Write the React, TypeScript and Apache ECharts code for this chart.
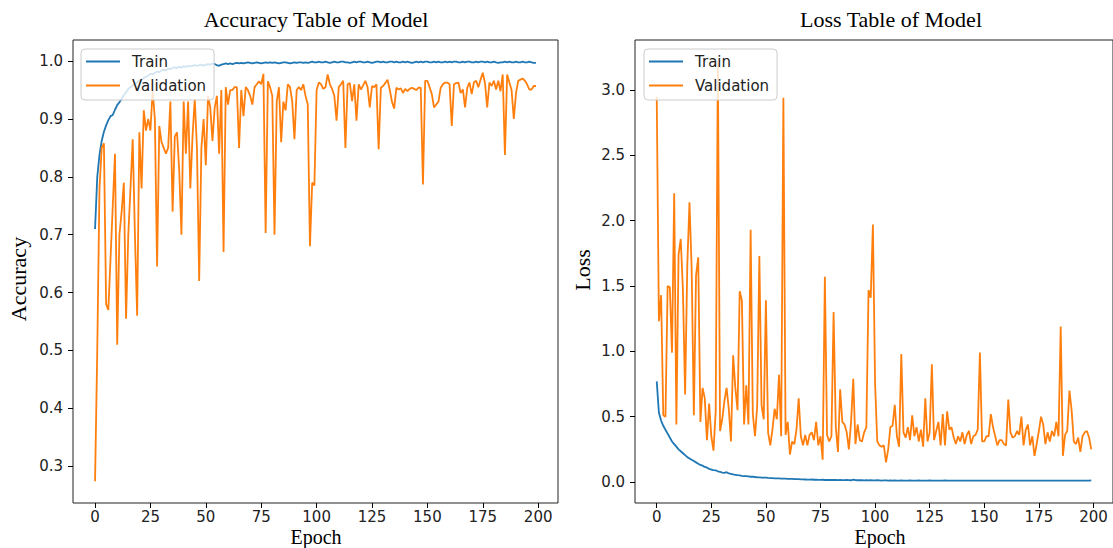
import React, { useEffect, useRef } from "react";
import * as echarts from "echarts";

const xTicks = [0, 25, 50, 75, 100, 125, 150, 175, 200];
const accTicks = [0.3, 0.4, 0.5, 0.6, 0.7, 0.8, 0.9, 1.0];
const lossTicks = [0, 0.5, 1.0, 1.5, 2.0, 2.5, 3.0];

const trainAcc = [
  0.710, 0.800, 0.838, 0.862, 0.878, 0.889, 0.898, 0.905, 0.907, 0.916,
  0.924, 0.929, 0.935, 0.941, 0.946, 0.952, 0.955, 0.958, 0.961, 0.963,
  0.966, 0.968, 0.971, 0.973, 0.975, 0.978, 0.977, 0.980, 0.982, 0.981,
  0.984, 0.985, 0.984, 0.987, 0.986, 0.988, 0.989, 0.988, 0.990, 0.989,
  0.991, 0.990, 0.992, 0.991, 0.992, 0.993, 0.992, 0.993, 0.994, 0.992,
  0.994, 0.995, 0.994, 0.996, 0.995, 0.993, 0.992, 0.994, 0.995, 0.996,
  0.995, 0.996, 0.995, 0.996, 0.997, 0.996, 0.997, 0.996, 0.997, 0.998,
  0.997, 0.996, 0.997, 0.998, 0.997, 0.996, 0.997, 0.998, 0.997, 0.998,
  0.997, 0.998, 0.997, 0.996, 0.997, 0.998, 0.998, 0.997, 0.996, 0.997,
  0.998, 0.997, 0.998, 0.998, 0.997, 0.998, 0.997, 0.998, 0.999, 0.998,
  0.998, 0.999, 0.998, 0.998, 0.999, 0.998, 0.997, 0.998, 0.999, 0.998,
  0.998, 0.999, 0.999, 0.998, 0.998, 0.997, 0.998, 0.999, 0.998, 0.999,
  0.999, 0.998, 0.998, 0.999, 0.998, 0.997, 0.998, 0.999, 0.999, 0.998,
  0.999, 0.998, 0.998, 0.999, 0.999, 0.998, 0.999, 0.998, 0.998, 0.999,
  0.998, 0.999, 0.998, 0.997, 0.998, 0.999, 0.998, 0.999, 0.998, 0.999,
  0.999, 0.998, 0.998, 0.999, 0.998, 0.999, 0.998, 0.998, 0.999, 0.998,
  0.999, 0.998, 0.999, 0.999, 0.998, 0.998, 0.999, 0.998, 0.999, 0.999,
  0.998, 0.998, 0.999, 0.998, 0.999, 0.999, 0.998, 0.999, 0.998, 0.998,
  0.999, 0.998, 0.997, 0.998, 0.998, 0.999, 0.998, 0.999, 0.998, 0.998,
  0.999, 0.998, 0.998, 0.999, 0.998, 0.998, 0.999, 0.998, 0.997, 0.997,
];

const valAcc = [
  0.274, 0.500, 0.780, 0.850, 0.858, 0.580, 0.570, 0.660, 0.750, 0.840,
  0.510, 0.700, 0.740, 0.790, 0.555, 0.700, 0.780, 0.865, 0.700, 0.560,
  0.877, 0.780, 0.915, 0.880, 0.900, 0.880, 0.950, 0.900, 0.645, 0.888,
  0.860, 0.850, 0.840, 0.850, 0.930, 0.740, 0.870, 0.877, 0.810, 0.700,
  0.930, 0.840, 0.930, 0.780, 0.870, 0.935, 0.850, 0.620, 0.850, 0.900,
  0.820, 0.940, 0.920, 0.862, 0.920, 0.940, 0.840, 0.950, 0.670, 0.955,
  0.925, 0.950, 0.950, 0.955, 0.955, 0.850, 0.950, 0.905, 0.955, 0.950,
  0.940, 0.925, 0.955, 0.960, 0.965, 0.960, 0.978, 0.703, 0.965, 0.955,
  0.940, 0.700, 0.930, 0.955, 0.860, 0.930, 0.915, 0.960, 0.955, 0.930,
  0.865, 0.950, 0.955, 0.950, 0.960, 0.940, 0.925, 0.680, 0.790, 0.785,
  0.950, 0.963, 0.960, 0.952, 0.955, 0.977, 0.960, 0.952, 0.940, 0.897,
  0.955, 0.960, 0.966, 0.850, 0.960, 0.962, 0.931, 0.960, 0.897, 0.960,
  0.951, 0.958, 0.966, 0.955, 0.920, 0.957, 0.955, 0.960, 0.848, 0.954,
  0.957, 0.962, 0.968, 0.951, 0.930, 0.918, 0.954, 0.951, 0.953, 0.945,
  0.952, 0.948, 0.952, 0.954, 0.952, 0.950, 0.954, 0.954, 0.787, 0.966,
  0.966, 0.955, 0.943, 0.920, 0.925, 0.930, 0.954, 0.960, 0.963, 0.963,
  0.960, 0.888, 0.960, 0.962, 0.963, 0.945, 0.951, 0.920, 0.954, 0.963,
  0.943, 0.963, 0.966, 0.955, 0.968, 0.980, 0.962, 0.920, 0.963, 0.957,
  0.966, 0.951, 0.966, 0.948, 0.977, 0.838, 0.977, 0.963, 0.950, 0.900,
  0.945, 0.966, 0.968, 0.970, 0.966, 0.960, 0.951, 0.951, 0.957, 0.957,
];

const trainLoss = [
  0.770, 0.530, 0.470, 0.430, 0.400, 0.370, 0.340, 0.310, 0.290, 0.270,
  0.250, 0.235, 0.220, 0.205, 0.190, 0.180, 0.170, 0.160, 0.150, 0.140,
  0.130, 0.125, 0.115, 0.110, 0.100, 0.095, 0.090, 0.088, 0.082, 0.078,
  0.072, 0.070, 0.075, 0.065, 0.062, 0.058, 0.055, 0.052, 0.050, 0.047,
  0.045, 0.044, 0.042, 0.040, 0.041, 0.038, 0.036, 0.035, 0.034, 0.033,
  0.033, 0.031, 0.030, 0.029, 0.028, 0.027, 0.028, 0.026, 0.025, 0.025,
  0.024, 0.023, 0.024, 0.022, 0.021, 0.022, 0.020, 0.020, 0.019, 0.018,
  0.018, 0.019, 0.017, 0.017, 0.016, 0.016, 0.017, 0.015, 0.016, 0.015,
  0.015, 0.016, 0.015, 0.014, 0.015, 0.014, 0.014, 0.015, 0.014, 0.013,
  0.018, 0.014, 0.013, 0.014, 0.013, 0.012, 0.013, 0.012, 0.013, 0.012,
  0.012, 0.013, 0.012, 0.011, 0.012, 0.012, 0.011, 0.012, 0.011, 0.012,
  0.011, 0.011, 0.012, 0.011, 0.010, 0.011, 0.012, 0.011, 0.010, 0.011,
  0.012, 0.011, 0.010, 0.011, 0.011, 0.012, 0.010, 0.011, 0.010, 0.011,
  0.010, 0.011, 0.012, 0.010, 0.011, 0.010, 0.011, 0.010, 0.011, 0.010,
  0.011, 0.010, 0.010, 0.011, 0.010, 0.011, 0.010, 0.010, 0.011, 0.010,
  0.010, 0.011, 0.010, 0.010, 0.011, 0.010, 0.010, 0.011, 0.010, 0.010,
  0.011, 0.010, 0.010, 0.011, 0.010, 0.010, 0.011, 0.010, 0.010, 0.010,
  0.011, 0.010, 0.010, 0.010, 0.011, 0.010, 0.010, 0.011, 0.010, 0.010,
  0.010, 0.011, 0.010, 0.010, 0.010, 0.011, 0.010, 0.010, 0.010, 0.011,
  0.010, 0.010, 0.010, 0.011, 0.010, 0.010, 0.010, 0.011, 0.010, 0.012,
];

const valLoss = [
  2.95, 1.23, 1.43, 0.51, 0.50, 1.50, 1.49, 0.99, 2.21, 0.44,
  1.74, 1.86, 1.47, 0.67, 1.66, 2.14, 1.63, 0.51, 1.58, 1.72,
  0.46, 0.72, 0.64, 0.32, 0.60, 0.35, 0.24, 0.54, 3.22, 0.39,
  0.48, 0.62, 0.72, 0.56, 0.31, 0.97, 0.72, 0.55, 1.46, 1.39,
  0.44, 0.74, 0.44, 1.93, 0.52, 0.35, 0.58, 1.73, 0.59, 0.48,
  1.39, 0.38, 0.28, 0.40, 0.56, 0.48, 0.82, 0.35, 2.94, 0.36,
  0.46, 0.21, 0.31, 0.29, 0.40, 0.64, 0.35, 0.28, 0.36, 0.28,
  0.36, 0.38, 0.32, 0.46, 0.28, 0.35, 0.17, 1.57, 0.36, 0.31,
  0.35, 1.30, 0.42, 0.23, 0.71, 0.46, 0.44, 0.38, 0.25, 0.46,
  0.79, 0.29, 0.44, 0.32, 0.31, 0.38, 0.42, 1.47, 1.41, 1.97,
  0.75, 0.31, 0.28, 0.27, 0.28, 0.15, 0.25, 0.42, 0.43, 0.59,
  0.35, 0.27, 0.98, 0.38, 0.34, 0.42, 0.32, 0.51, 0.35, 0.42,
  0.31, 0.40, 0.27, 0.64, 0.31, 0.38, 0.90, 0.32, 0.39, 0.46,
  0.28, 0.52, 0.28, 0.54, 0.40, 0.42, 0.34, 0.29, 0.35, 0.31,
  0.38, 0.29, 0.36, 0.39, 0.29, 0.35, 0.36, 0.40, 0.99, 0.31,
  0.31, 0.35, 0.35, 0.52, 0.42, 0.35, 0.28, 0.32, 0.32, 0.29,
  0.28, 0.63, 0.38, 0.34, 0.35, 0.39, 0.36, 0.50, 0.28, 0.40,
  0.44, 0.28, 0.35, 0.20, 0.29, 0.39, 0.50, 0.44, 0.29, 0.38,
  0.31, 0.39, 0.35, 0.46, 0.35, 1.19, 0.20, 0.36, 0.39, 0.70,
  0.55, 0.31, 0.29, 0.34, 0.23, 0.35, 0.38, 0.39, 0.34, 0.25,
];

const TRAIN = "#1f77b4";
const VAL = "#ff7f0e";
const TICK_FONT = "DejaVu Sans";
const SERIF = "Liberation Serif";

function pairs(arr: number[]) {
  return arr.map((v, i) => [i, v]);
}

export default function App() {
  const ref = useRef<HTMLDivElement>(null);
  useEffect(() => {
    if (!ref.current) return;
    const chart = echarts.init(ref.current, null, { renderer: "svg" });

    const xAxisBase = (gridIndex: number) => ({
      type: "value",
      gridIndex,
      position: "bottom",
      min: -9.95,
      max: 208.95,
      axisLine: { show: false, onZero: false },
      splitLine: { show: false },
      axisTick: {
        show: true,
        length: 5,
        lineStyle: { color: "#000", width: 1 },
        customValues: xTicks,
      },
      axisLabel: {
        show: true,
        margin: 6,
        color: "#222",
        fontFamily: TICK_FONT,
        fontSize: 15,
        customValues: xTicks,
      },
    });

    const yAxisBase = (gridIndex: number, min: number, max: number, ticks: number[]) => ({
      type: "value",
      gridIndex,
      position: "left",
      min,
      max,
      axisLine: { show: false, onZero: false },
      splitLine: { show: false },
      axisTick: {
        show: true,
        length: 5,
        lineStyle: { color: "#000", width: 1 },
        customValues: ticks,
      },
      axisLabel: {
        show: true,
        margin: 10,
        color: "#222",
        fontFamily: TICK_FONT,
        fontSize: 15,
        customValues: ticks,
        formatter: (v: number) => v.toFixed(1),
      },
    });

    const legendBase = (left: number) => ({
      show: true,
      left,
      top: 49,
      orient: "vertical",
      data: ["Train", "Validation"],
      icon: "rect",
      itemWidth: 34,
      itemHeight: 2,
      itemGap: 9,
      padding: [5, 8, 7, 5],
      backgroundColor: "rgba(255,255,255,0.8)",
      borderColor: "#cccccc",
      borderWidth: 1,
      borderRadius: 4,
      selectedMode: false,
      textStyle: {
        fontFamily: TICK_FONT,
        fontSize: 15,
        color: "#222",
        padding: [0, 0, 0, 7],
      },
    });

    const lineSeries = (name: string, data: number[], color: string, idx: number) => ({
      type: "line",
      name,
      xAxisIndex: idx,
      yAxisIndex: idx,
      data: pairs(data),
      showSymbol: false,
      symbol: "none",
      lineStyle: { color, width: 1.8 },
      itemStyle: { color },
      emphasis: { disabled: true },
    });

    const textEl = (text: string, x: number, y: number, rotation = 0, size = 22) => ({
      type: "text",
      x,
      y,
      rotation,
      style: {
        text,
        fill: "#000",
        font: `${size}px "${SERIF}"`,
        textAlign: "center",
        textVerticalAlign: "middle",
      },
    });

    chart.setOption({
      animation: false,
      backgroundColor: "#ffffff",
      grid: [
        {
          left: 73,
          top: 40,
          width: 485,
          height: 463,
          show: true,
          borderColor: "#222",
          borderWidth: 1,
          backgroundColor: "transparent",
        },
        {
          left: 635,
          top: 40,
          width: 485,
          height: 463,
          show: true,
          borderColor: "#222",
          borderWidth: 1,
          backgroundColor: "transparent",
        },
      ],
      xAxis: [xAxisBase(0), xAxisBase(1)],
      yAxis: [
        yAxisBase(0, 0.2365, 1.0365, accTicks),
        yAxisBase(1, -0.161, 3.383, lossTicks),
      ],
      legend: [legendBase(81), legendBase(644)],
      series: [
        lineSeries("Train", trainAcc, TRAIN, 0),
        lineSeries("Validation", valAcc, VAL, 0),
        lineSeries("Train", trainLoss, TRAIN, 1),
        lineSeries("Validation", valLoss, VAL, 1),
      ],
      graphic: [
        textEl("Accuracy Table of Model", 316, 19),
        textEl("Loss Table of Model", 891, 19),
        textEl("Accuracy", 18, 279, Math.PI / 2),
        textEl("Loss", 582, 270, Math.PI / 2),
        textEl("Epoch", 316, 536.5, 0, 20),
        textEl("Epoch", 880, 536.5, 0, 20),
      ],
    });

    return () => chart.dispose();
  }, []);

  return (
    <div
      ref={ref}
      style={{ position: "absolute", left: 0, top: 0, width: 1113, height: 548 }}
    />
  );
}
